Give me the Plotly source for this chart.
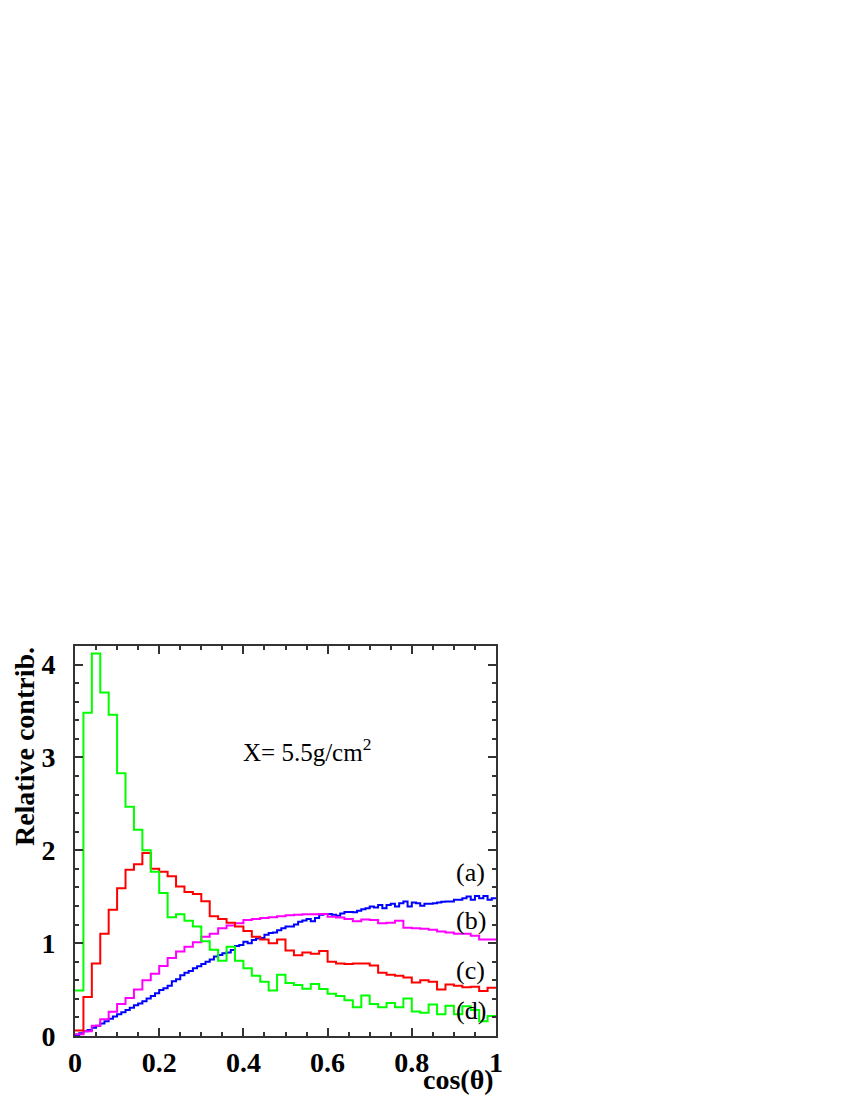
import numpy as np
import plotly.graph_objects as go

# bin contents (50 bins of 0.02, blue has 100 bins of 0.01)
curve_a = [0.01, 0.03, 0.05, 0.065, 0.09, 0.11, 0.135, 0.16, 0.185, 0.21,
           0.235, 0.255, 0.28, 0.305, 0.33, 0.35, 0.375, 0.405, 0.43, 0.46,
           0.495, 0.515, 0.54, 0.59, 0.61, 0.655, 0.68, 0.70, 0.73, 0.75,
           0.775, 0.80, 0.825, 0.855, 0.873, 0.89, 0.90, 0.925, 0.97, 0.98,
           1.015, 1.0, 1.035, 1.05, 1.055, 1.09, 1.11, 1.115, 1.14, 1.16,
           1.18, 1.18, 1.20, 1.23, 1.245, 1.26, 1.235, 1.27, 1.305, 1.315,
           1.315, 1.305, 1.295, 1.32, 1.335, 1.335, 1.333, 1.35, 1.366, 1.376,
           1.394, 1.384, 1.412, 1.376, 1.412, 1.423, 1.394, 1.43, 1.448, 1.394,
           1.438, 1.43, 1.402, 1.423, 1.423, 1.43, 1.438, 1.445, 1.448, 1.448,
           1.466, 1.466, 1.484, 1.502, 1.466, 1.509, 1.484, 1.509, 1.466, 1.484]

curve_b = [0.02, 0.05, 0.11, 0.18, 0.26, 0.345, 0.41, 0.50, 0.60, 0.67,
           0.755, 0.84, 0.91, 0.96, 1.01, 1.07, 1.10, 1.16, 1.19, 1.215,
           1.25, 1.26, 1.27, 1.28, 1.29, 1.30, 1.305, 1.31, 1.31, 1.315,
           1.285, 1.275, 1.26, 1.235, 1.255, 1.25, 1.215, 1.22, 1.24, 1.165,
           1.16, 1.155, 1.145, 1.125, 1.115, 1.10, 1.10, 1.08, 1.04, 1.04]

curve_c = [0.06, 0.42, 0.78, 1.10, 1.36, 1.59, 1.79, 1.85, 1.97, 1.80,
           1.77, 1.72, 1.61, 1.55, 1.53, 1.45, 1.29, 1.26, 1.22, 1.18,
           1.13, 1.07, 1.04, 1.00, 1.04, 0.92, 0.87, 0.90, 0.885, 0.915,
           0.80, 0.78, 0.775, 0.78, 0.78, 0.76, 0.68, 0.66, 0.65, 0.63,
           0.575, 0.60, 0.585, 0.50, 0.555, 0.54, 0.525, 0.53, 0.485, 0.52]

curve_d = [0.49, 3.48, 4.12, 3.70, 3.46, 2.83, 2.47, 2.22, 2.00, 1.77,
           1.54, 1.28, 1.31, 1.24, 1.18, 1.02, 0.93, 0.81, 0.96, 0.81,
           0.73, 0.65, 0.585, 0.49, 0.66, 0.57, 0.55, 0.51, 0.56, 0.505,
           0.455, 0.43, 0.385, 0.31, 0.435, 0.345, 0.31, 0.355, 0.31, 0.405,
           0.265, 0.25, 0.34, 0.235, 0.325, 0.235, 0.32, 0.28, 0.16, 0.215]

series = [
    ('(a)', curve_a, '#0000ff'),
    ('(b)', curve_b, '#ff00ff'),
    ('(c)', curve_c, '#ff0000'),
    ('(d)', curve_d, '#00ff00'),
]
label_y = {'(a)': 1.76, '(b)': 1.24, '(c)': 0.71, '(d)': 0.28}

SERIF = 'Liberation Serif, Times New Roman, serif'

fig = go.Figure()

# histograms drawn as step lines over the bin edges
for name, vals, color in series:
    edges = np.linspace(0, 1, len(vals) + 1)
    fig.add_trace(go.Scatter(
        x=edges, y=list(vals) + [vals[-1]],
        mode='lines', line=dict(color=color, width=2, shape='hv'),
        name=name, showlegend=False, hoverinfo='skip'
    ))

for name, _, _ in series:
    fig.add_annotation(x=0.94, y=label_y[name], text=name, showarrow=False,
                       font=dict(family=SERIF, size=26, color='black'))

fig.add_annotation(x=0.552, y=3.08, text='X= 5.5g/cm<sup>2</sup>', showarrow=False,
                   font=dict(family=SERIF, size=25, color='black'))

# axis titles, ROOT style (aligned to the axis ends)
fig.add_annotation(xref='paper', yref='paper', x=1.0, y=0, xanchor='right', yanchor='top',
                   yshift=-26, text='<b>cos(θ)</b>', showarrow=False,
                   font=dict(family=SERIF, size=28, color='black'))
fig.add_annotation(xref='paper', yref='paper', x=-0.159, y=1.0, xanchor='left', yanchor='top',
                   textangle=-90, text='<b>Relative contrib.</b>', showarrow=False,
                   borderpad=0, font=dict(family=SERIF, size=28, color='black'))

axis_style = dict(
    showline=True, linecolor='#333333', linewidth=2, mirror='ticks',
    ticks='inside', tickcolor='#333333', tickwidth=1.5, ticklen=8,
    showgrid=False, zeroline=False,
    tickfont=dict(family=SERIF, size=28, color='black', weight='bold'),
)

fig.update_xaxes(range=[0, 1], dtick=0.2, tick0=0,
                 minor=dict(dtick=0.05, ticks='inside', ticklen=4, tickcolor='#333333', showgrid=False),
                 **axis_style)
fig.update_yaxes(range=[0, 4.2], dtick=1, tick0=0, ticklabelstandoff=12,
                 minor=dict(dtick=0.2, ticks='inside', ticklen=4, tickcolor='#333333', showgrid=False),
                 **axis_style)

# page body adds an 8px offset, so the figure is 8px smaller and margins shifted
fig.update_layout(
    width=842, height=1092,
    margin=dict(l=67, r=354, t=638, b=64),
    paper_bgcolor='white', plot_bgcolor='white',
    showlegend=False,
)

fig.write_html("out.html")
